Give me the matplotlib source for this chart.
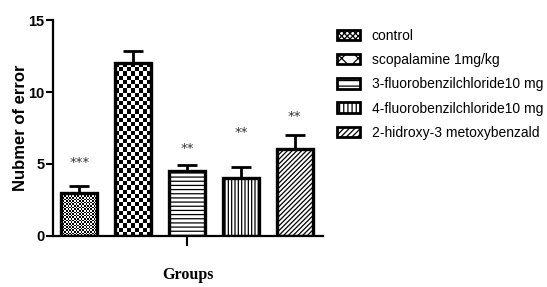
import numpy as np
import matplotlib
matplotlib.use("Agg")
import matplotlib.pyplot as plt
from matplotlib.patches import Patch

groups = ["control", "scopalamine 1mg/kg", "3-fluorobenzilchloride10 mg",
          "4-fluorobenzilchloride10 mg", "2-hidroxy-3 metoxybenzald"]
means = [3.0, 12.0, 4.5, 4.0, 6.05]
sems = [0.5, 0.87, 0.4, 0.8, 0.95]
star_labels = ["***", "", "**", "**", "**"]
star_heights = [5.1, None, 6.1, 7.2, 8.3]
yticks = [0, 5, 10, 15]

plt.rcParams['hatch.linewidth'] = 0.9
fig = plt.figure(figsize=(5.47, 2.87), dpi=100)
ax = fig.add_axes([0.097, 0.178, 0.493, 0.752])

x = np.arange(len(means))
hatches = [None, None, "----", "|||||", "///////"]
bars = ax.bar(x, means, width=0.667, color="white", edgecolor="black",
              linewidth=2.4, zorder=2)
for b, h in zip(bars, hatches):
    if h:
        b.set_hatch(h)

ax.errorbar(x, means, yerr=[np.zeros(len(sems)), sems], fmt="none",
            ecolor="black", elinewidth=2.0, capsize=7.5, capthick=2.0, zorder=1)

ax.set_xlim(-0.49, 4.52)
ax.set_ylim(0, 15)

# checkerboard textures for the first two bars
fig.canvas.draw()
def checker(bar, cell_px):
    x0, y0 = bar.get_x(), bar.get_y()
    w, h = bar.get_width(), bar.get_height()
    p0 = ax.transData.transform((x0, y0))
    p1 = ax.transData.transform((x0 + w, y0 + h))
    nc = max(1, int(round((p1[0] - p0[0]) / cell_px)))
    nr = max(1, int(round((p1[1] - p0[1]) / cell_px)))
    arr = (np.add.outer(np.arange(nr), np.arange(nc)) % 2).astype(float)
    im = ax.imshow(arr, extent=(x0, x0 + w, y0, y0 + h), cmap="gray",
                   vmin=0, vmax=1, interpolation="nearest", aspect="auto",
                   zorder=1.5, origin="lower")
    im.set_clip_path(bar)
checker(bars[0], 1.6)
checker(bars[1], 4.2)
ax.set_xlim(-0.49, 4.52)
ax.set_ylim(0, 15)
for b in bars[:2]:
    b.set_facecolor("none")
    b.set_zorder(3)

for xi, lab, hy in zip(x, star_labels, star_heights):
    if lab:
        ax.text(xi, hy, lab, ha="center", va="center", fontsize=9.5,
                color="#333333", family="DejaVu Sans")

ax.spines["top"].set_visible(False)
ax.spines["right"].set_visible(False)
ax.spines["left"].set_linewidth(1.6)
ax.spines["bottom"].set_linewidth(1.6)
ax.set_yticks(yticks)
ax.set_yticklabels([str(t) for t in yticks], fontweight="bold",
                   family="Liberation Sans", fontsize=10.5)
ax.tick_params(axis="y", length=5, width=1.5, pad=1)
ax.set_xticks([2])
ax.set_xticklabels([""])
ax.tick_params(axis="x", length=7, width=1.5)
ax.set_ylabel("Nubmer of error", fontweight="bold", family="Liberation Sans",
              fontsize=12, labelpad=0)
ax.set_xlabel("Groups", fontweight="bold", family="Liberation Serif",
              fontsize=11.5, labelpad=12)

leg_hatches = ["xxxxxx", "XX", "---", "||||", "//////"]
handles = [Patch(facecolor="white", edgecolor="black", linewidth=2.0, hatch=h)
           for h in leg_hatches]
ax.legend(handles, groups, loc="upper left", bbox_to_anchor=(0.617, 0.90),
          bbox_transform=fig.transFigure, frameon=False,
          prop={"family": "Liberation Sans", "size": 10},
          handlelength=1.6, handleheight=0.8, labelspacing=0.74,
          handletextpad=0.85, borderpad=0, borderaxespad=0)

fig.savefig("out.png", dpi=100)
